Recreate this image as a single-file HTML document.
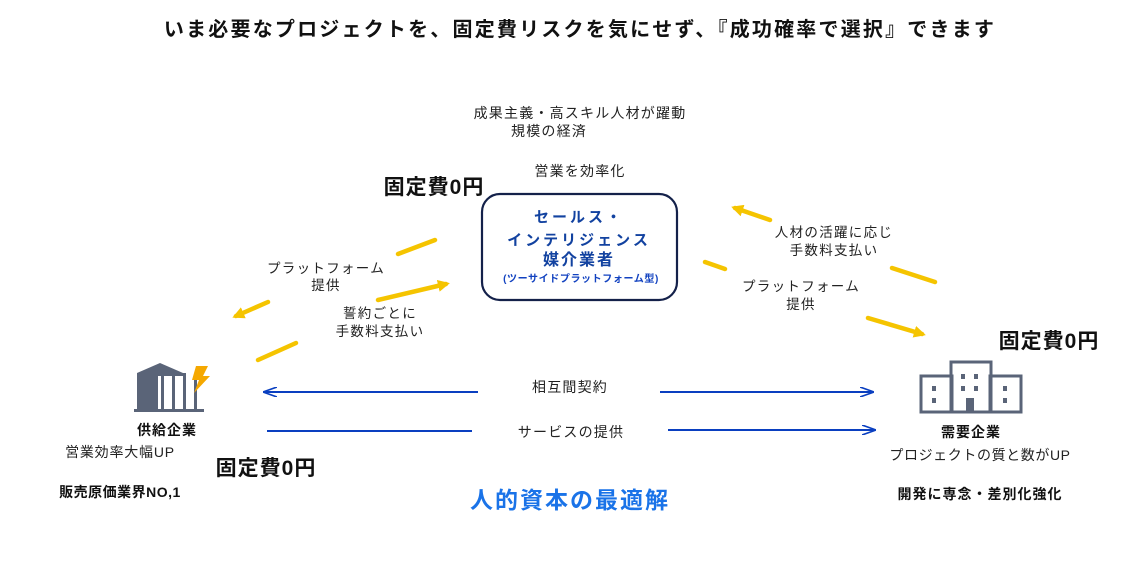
<!DOCTYPE html>
<html><head><meta charset="utf-8"><style>
body{margin:0;background:#fff}
svg{display:block}
text{font-family:"Liberation Sans","Noto Sans CJK JP",sans-serif}
</style></head><body>
<svg width="1130" height="570" viewBox="0 0 1130 570">
<defs>
<marker id="ya" markerWidth="12" markerHeight="12" refX="8" refY="6" orient="auto" markerUnits="userSpaceOnUse"><path d="M0,0 L12,6 L0,12 Z" fill="#f5c400"/></marker>
<marker id="ba" markerWidth="14" markerHeight="10" refX="13" refY="5" orient="auto" markerUnits="userSpaceOnUse"><path d="M0,0 L14,5 L0,10" fill="none" stroke="#0a3fc0" stroke-width="1.6"/></marker>
</defs>
<text x="580" y="36" font-size="20" font-weight="bold" text-anchor="middle" fill="#111" letter-spacing="2.2">いま必要なプロジェクトを、固定費リスクを気にせず、『成功確率で選択』できます</text>

<g font-size="14" fill="#222" text-anchor="middle" letter-spacing="1.2">
<text x="580" y="118">成果主義・高スキル人材が躍動</text>
<text x="549" y="136">規模の経済</text>
<text x="580" y="176">営業を効率化</text>
</g>
<text x="434" y="194" font-size="21" font-weight="bold" text-anchor="middle" fill="#111" letter-spacing="1">固定費0円</text>

<rect x="482" y="194" width="195" height="106" rx="18" fill="#fff" stroke="#14214a" stroke-width="2.2"/>
<text x="579" y="222" font-size="15" font-weight="bold" text-anchor="middle" fill="#1242a0" letter-spacing="3">セールス・</text>
<text x="579" y="245" font-size="15" font-weight="bold" text-anchor="middle" fill="#1242a0" letter-spacing="3">インテリジェンス</text>
<text x="579" y="265" font-size="16" font-weight="bold" text-anchor="middle" fill="#1242a0" letter-spacing="2">媒介業者</text>
<text x="581" y="282" font-size="10" font-weight="bold" text-anchor="middle" fill="#1242c0" letter-spacing="0.6">(ツーサイドプラットフォーム型)</text>

<g stroke="#f5c400" stroke-width="4.5" stroke-linecap="round" fill="none">
<line x1="435" y1="240" x2="398" y2="254"/>
<line x1="268" y1="302" x2="236" y2="316" marker-end="url(#ya)"/>
<line x1="258" y1="360" x2="296" y2="343"/>
<line x1="378" y1="300" x2="446" y2="284" marker-end="url(#ya)"/>
<line x1="770" y1="220" x2="735" y2="208" marker-end="url(#ya)"/>
<line x1="892" y1="268" x2="935" y2="282"/>
<line x1="705" y1="262" x2="725" y2="269"/>
<line x1="868" y1="318" x2="922" y2="334" marker-end="url(#ya)"/>
</g>
<g font-size="13.5" fill="#222" text-anchor="middle" letter-spacing="1.3">
<text x="326" y="273">プラットフォーム</text>
<text x="326" y="290">提供</text>
<text x="380" y="318">誓約ごとに</text>
<text x="380" y="336">手数料支払い</text>
<text x="834" y="237">人材の活躍に応じ</text>
<text x="834" y="255">手数料支払い</text>
<text x="801" y="291">プラットフォーム</text>
<text x="801" y="309">提供</text>
</g>

<text x="1049" y="348" font-size="21" font-weight="bold" text-anchor="middle" fill="#111" letter-spacing="1">固定費0円</text>

<g stroke="#0a3fc0" stroke-width="2" fill="none">
<line x1="478" y1="392" x2="264" y2="392" marker-end="url(#ba)"/>
<line x1="660" y1="392" x2="873" y2="392" marker-end="url(#ba)"/>
<line x1="267" y1="431" x2="472" y2="431"/>
<line x1="668" y1="430" x2="875" y2="430" marker-end="url(#ba)"/>
</g>
<g font-size="14" fill="#222" text-anchor="middle" letter-spacing="1.2">
<text x="570" y="392">相互間契約</text>
<text x="571" y="437">サービスの提供</text>
</g>

<g fill="#5a6478">
<path d="M137,373 L160,363 L183,373 L137,373 Z"/>
<rect x="137" y="373" width="21" height="37"/>
<rect x="161" y="373" width="3" height="37"/>
<rect x="172" y="375" width="3" height="35"/>
<rect x="183" y="375" width="3" height="35"/>
<rect x="194" y="380" width="3" height="30"/>
<rect x="134" y="409" width="70" height="3"/>
<path d="M158,368 L175,373 L186,373 L186,376 L158,376Z"/>
</g>
<path d="M196,366 L208,366 L203,376 L210,376 L194,393 L199,380 L192,380 Z" fill="#f5a800"/>
<text x="167" y="435" font-size="14" font-weight="bold" text-anchor="middle" fill="#111" letter-spacing="1">供給企業</text>
<text x="120" y="457" font-size="14" text-anchor="middle" fill="#222" letter-spacing="0.8">営業効率大幅UP</text>
<text x="266" y="475" font-size="21" font-weight="bold" text-anchor="middle" fill="#111" letter-spacing="1">固定費0円</text>
<text x="120" y="497" font-size="14" font-weight="bold" text-anchor="middle" fill="#111" letter-spacing="0.5">販売原価業界NO,1</text>

<g fill="none" stroke="#5a6478" stroke-width="3">
<rect x="921" y="376" width="31" height="36"/>
<rect x="951" y="362" width="40" height="50"/>
<rect x="990" y="376" width="31" height="36"/>
</g>
<g fill="#5a6478">
<rect x="961" y="374" width="4" height="5"/><rect x="974" y="374" width="4" height="5"/>
<rect x="961" y="386" width="4" height="5"/><rect x="974" y="386" width="4" height="5"/>
<rect x="966" y="398" width="8" height="14"/>
<rect x="932" y="386" width="4" height="5"/><rect x="932" y="398" width="4" height="5"/>
<rect x="1003" y="386" width="4" height="5"/><rect x="1003" y="398" width="4" height="5"/>
</g>
<text x="971" y="437" font-size="14" font-weight="bold" text-anchor="middle" fill="#111" letter-spacing="1">需要企業</text>
<text x="980" y="460" font-size="14" text-anchor="middle" fill="#222" letter-spacing="0.6">プロジェクトの質と数がUP</text>
<text x="980" y="499" font-size="14" font-weight="bold" text-anchor="middle" fill="#111" letter-spacing="1">開発に専念・差別化強化</text>

<text x="570" y="508" font-size="23" font-weight="bold" text-anchor="middle" fill="#1a73e8" letter-spacing="2">人的資本の最適解</text>
</svg>
</body></html>
